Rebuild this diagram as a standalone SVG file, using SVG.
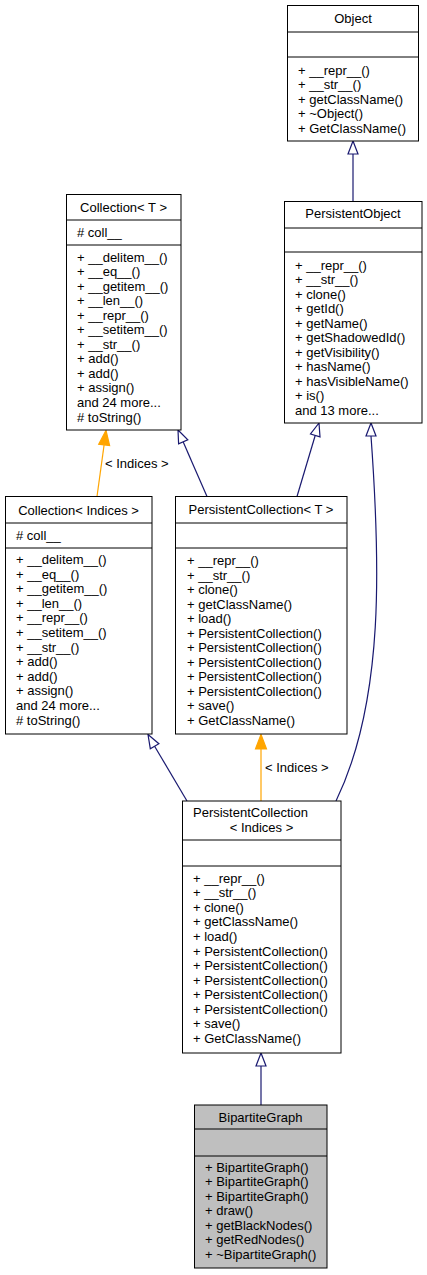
<svg xmlns="http://www.w3.org/2000/svg" width="427" height="1275" viewBox="0 0 427 1275">
<style>
text{font-family:"Liberation Sans",Arial,Helvetica,sans-serif;font-size:13px;fill:#000}
.box{fill:#fff;stroke:#000;stroke-width:1}
.sel{fill:#bfbfbf;stroke:#000;stroke-width:1}
.div{stroke:#000;stroke-width:1}
.c{text-anchor:middle}
.blue{stroke:#191970;stroke-width:1.2;fill:none}
.blueh{stroke:#191970;stroke-width:1.2;fill:#fff}
.org{stroke:#ffa500;stroke-width:1.2;fill:none}
.orgh{stroke:#ffa500;stroke-width:1.2;fill:#ffa500}
</style>
<rect width="427" height="1275" fill="#fff"/>
<g id="connectors">
<line class="blue" x1="353" y1="201" x2="353" y2="154"/>
<polygon class="blueh" points="353,141 348,154 358,154"/>
<line class="blue" x1="183.2" y1="441.9" x2="207" y2="496.5"/>
<polygon class="blueh" points="178,430 187.8,439.9 178.6,443.9"/>
<line class="blue" x1="315.2" y1="435.5" x2="297" y2="496.5"/>
<polygon class="blueh" points="319,423 320,436.9 310.5,434"/>
<path class="blue" d="M371,436 C380,560 385,700 336,801"/>
<polygon class="blueh" points="371,423 366,436 376,436"/>
<line class="blue" x1="154.6" y1="746.2" x2="187" y2="801"/>
<polygon class="blueh" points="148,734.5 158.9,743.7 150.3,748.7"/>
<line class="org" x1="104.1" y1="444.9" x2="97" y2="496.5"/>
<polygon class="orgh" points="106,430.5 109.6,445.6 98.7,444.2"/>
<text x="105" y="467.5">&lt; Indices &gt;</text>
<line class="org" x1="261" y1="749" x2="261" y2="801"/>
<polygon class="orgh" points="261,734.5 255.5,749 266.5,749"/>
<text x="265" y="771.5">&lt; Indices &gt;</text>
<line class="blue" x1="261" y1="1066" x2="261" y2="1105"/>
<polygon class="blueh" points="261,1053 256,1066 266,1066"/>
</g>
<g id="Object">
<rect class="box" x="287.5" y="5.5" width="131" height="135.5"/>
<line class="div" x1="287.5" y1="32" x2="418.5" y2="32"/>
<line class="div" x1="287.5" y1="57" x2="418.5" y2="57"/>
<text class="c" x="353" y="23">Object</text>
<text x="298" y="74.5">+ __repr__()<tspan x="298" dy="14.5">+ __str__()</tspan><tspan x="298" dy="14.5">+ getClassName()</tspan><tspan x="298" dy="14.5">+ ~Object()</tspan><tspan x="298" dy="14.5">+ GetClassName()</tspan></text>
</g>
<g id="PersistentObject">
<rect class="box" x="284.5" y="201.5" width="137.5" height="221.5"/>
<line class="div" x1="284.5" y1="228" x2="422" y2="228"/>
<line class="div" x1="284.5" y1="252" x2="422" y2="252"/>
<text class="c" x="353" y="218">PersistentObject</text>
<text x="295" y="269.5">+ __repr__()<tspan x="295" dy="14.5">+ __str__()</tspan><tspan x="295" dy="14.5">+ clone()</tspan><tspan x="295" dy="14.5">+ getId()</tspan><tspan x="295" dy="14.5">+ getName()</tspan><tspan x="295" dy="14.5">+ getShadowedId()</tspan><tspan x="295" dy="14.5">+ getVisibility()</tspan><tspan x="295" dy="14.5">+ hasName()</tspan><tspan x="295" dy="14.5">+ hasVisibleName()</tspan><tspan x="295" dy="14.5">+ is()</tspan><tspan x="295" dy="14.5">and 13 more...</tspan></text>
</g>
<g id="CollectionT">
<rect class="box" x="66.5" y="194.5" width="114.5" height="235.5"/>
<line class="div" x1="66.5" y1="220" x2="181" y2="220"/>
<line class="div" x1="66.5" y1="245" x2="181" y2="245"/>
<text class="c" x="123.5" y="211.5">Collection&lt; T &gt;</text>
<text x="77" y="237"># coll__</text>
<text x="77" y="261.5">+ __delitem__()<tspan x="77" dy="14.55">+ __eq__()</tspan><tspan x="77" dy="14.55">+ __getitem__()</tspan><tspan x="77" dy="14.55">+ __len__()</tspan><tspan x="77" dy="14.55">+ __repr__()</tspan><tspan x="77" dy="14.55">+ __setitem__()</tspan><tspan x="77" dy="14.55">+ __str__()</tspan><tspan x="77" dy="14.55">+ add()</tspan><tspan x="77" dy="14.55">+ add()</tspan><tspan x="77" dy="14.55">+ assign()</tspan><tspan x="77" dy="14.55">and 24 more...</tspan><tspan x="77" dy="14.55"># toString()</tspan></text>
</g>
<g id="CollectionIndices">
<rect class="box" x="5.5" y="496.5" width="146.5" height="237.5"/>
<line class="div" x1="5.5" y1="523" x2="152" y2="523"/>
<line class="div" x1="5.5" y1="548" x2="152" y2="548"/>
<text class="c" x="78.5" y="514.5">Collection&lt; Indices &gt;</text>
<text x="16" y="540"># coll__</text>
<text x="16" y="564">+ __delitem__()<tspan x="16" dy="14.6">+ __eq__()</tspan><tspan x="16" dy="14.6">+ __getitem__()</tspan><tspan x="16" dy="14.6">+ __len__()</tspan><tspan x="16" dy="14.6">+ __repr__()</tspan><tspan x="16" dy="14.6">+ __setitem__()</tspan><tspan x="16" dy="14.6">+ __str__()</tspan><tspan x="16" dy="14.6">+ add()</tspan><tspan x="16" dy="14.6">+ add()</tspan><tspan x="16" dy="14.6">+ assign()</tspan><tspan x="16" dy="14.6">and 24 more...</tspan><tspan x="16" dy="14.6"># toString()</tspan></text>
</g>
<g id="PersistentCollectionT">
<rect class="box" x="175.5" y="496.5" width="171.5" height="237.5"/>
<line class="div" x1="175.5" y1="523" x2="347" y2="523"/>
<line class="div" x1="175.5" y1="548" x2="347" y2="548"/>
<text class="c" x="261" y="514">PersistentCollection&lt; T &gt;</text>
<text x="187" y="565">+ __repr__()<tspan x="187" dy="14.5">+ __str__()</tspan><tspan x="187" dy="14.5">+ clone()</tspan><tspan x="187" dy="14.5">+ getClassName()</tspan><tspan x="187" dy="14.5">+ load()</tspan><tspan x="187" dy="14.5">+ PersistentCollection()</tspan><tspan x="187" dy="14.5">+ PersistentCollection()</tspan><tspan x="187" dy="14.5">+ PersistentCollection()</tspan><tspan x="187" dy="14.5">+ PersistentCollection()</tspan><tspan x="187" dy="14.5">+ PersistentCollection()</tspan><tspan x="187" dy="14.5">+ save()</tspan><tspan x="187" dy="14.5">+ GetClassName()</tspan></text>
</g>
<g id="PersistentCollectionIndices">
<rect class="box" x="182.5" y="801" width="158.5" height="252"/>
<line class="div" x1="182.5" y1="840" x2="341" y2="840"/>
<line class="div" x1="182.5" y1="866" x2="341" y2="866"/>
<text x="193" y="816.5">PersistentCollection</text>
<text class="c" x="261.5" y="831.5">&lt; Indices &gt;</text>
<text x="193" y="882.8">+ __repr__()<tspan x="193" dy="14.55">+ __str__()</tspan><tspan x="193" dy="14.55">+ clone()</tspan><tspan x="193" dy="14.55">+ getClassName()</tspan><tspan x="193" dy="14.55">+ load()</tspan><tspan x="193" dy="14.55">+ PersistentCollection()</tspan><tspan x="193" dy="14.55">+ PersistentCollection()</tspan><tspan x="193" dy="14.55">+ PersistentCollection()</tspan><tspan x="193" dy="14.55">+ PersistentCollection()</tspan><tspan x="193" dy="14.55">+ PersistentCollection()</tspan><tspan x="193" dy="14.55">+ save()</tspan><tspan x="193" dy="14.55">+ GetClassName()</tspan></text>
</g>
<g id="BipartiteGraph">
<rect class="sel" x="194.5" y="1105" width="132.5" height="163"/>
<line class="div" x1="194.5" y1="1129" x2="327" y2="1129"/>
<line class="div" x1="194.5" y1="1156" x2="327" y2="1156"/>
<text class="c" x="260.5" y="1121.5">BipartiteGraph</text>
<text x="205" y="1171.5">+ BipartiteGraph()<tspan x="205" dy="14.5">+ BipartiteGraph()</tspan><tspan x="205" dy="14.5">+ BipartiteGraph()</tspan><tspan x="205" dy="14.5">+ draw()</tspan><tspan x="205" dy="14.5">+ getBlackNodes()</tspan><tspan x="205" dy="14.5">+ getRedNodes()</tspan><tspan x="205" dy="14.5">+ ~BipartiteGraph()</tspan></text>
</g>
</svg>
